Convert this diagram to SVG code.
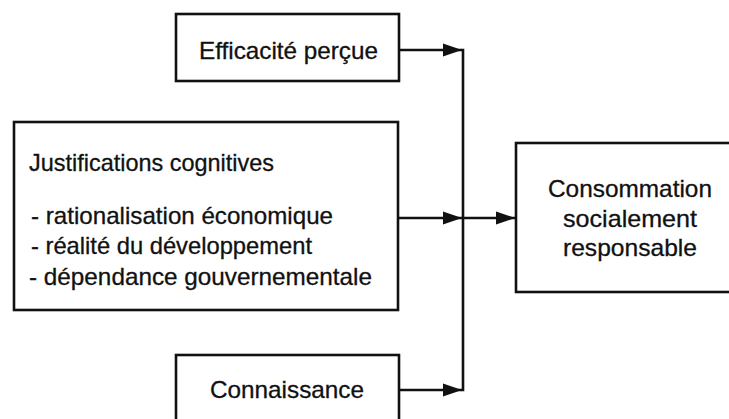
<svg xmlns="http://www.w3.org/2000/svg" width="729" height="419" viewBox="0 0 729 419">
<defs>
<style>
.box{fill:#fff;stroke:#111;stroke-width:2.6}
.t{font-family:"Liberation Sans",Arial,Helvetica,sans-serif;font-size:24px;fill:#111;stroke:#111;stroke-width:0.3}
.c{text-anchor:middle}
.ln{fill:none;stroke:#111;stroke-width:2.6}
</style>
<marker id="ah" markerUnits="userSpaceOnUse" markerWidth="20" markerHeight="14" refX="19" refY="7" orient="auto">
<path d="M0,0.5 L19,7 L0,13.5 Z" fill="#111"/>
</marker>
</defs>
<rect width="729" height="419" fill="#fff"/>
<g id="connectors">
<line class="ln" x1="399" y1="50" x2="462" y2="50" marker-end="url(#ah)"/>
<line class="ln" x1="463" y1="48.7" x2="463" y2="391.3"/>
<line class="ln" x1="398" y1="218" x2="462" y2="218" marker-end="url(#ah)"/>
<line class="ln" x1="463" y1="218" x2="515" y2="218" marker-end="url(#ah)"/>
<line class="ln" x1="399" y1="390" x2="462" y2="390" marker-end="url(#ah)"/>
</g>
<g id="efficacite">
<rect class="box" x="176" y="14" width="223" height="67"/>
<text class="t c" x="288.5" y="59" textLength="179" lengthAdjust="spacingAndGlyphs">Efficacité perçue</text>
</g>
<g id="justifications">
<rect class="box" x="14" y="122" width="384" height="188"/>
<text class="t" x="29" y="171" textLength="245" lengthAdjust="spacingAndGlyphs">Justifications cognitives</text>
<text class="t" x="31" y="224" textLength="302" lengthAdjust="spacingAndGlyphs">- rationalisation économique</text>
<text class="t" x="31" y="254" textLength="281" lengthAdjust="spacingAndGlyphs">- réalité du développement</text>
<text class="t" x="29" y="285" textLength="343" lengthAdjust="spacingAndGlyphs">- dépendance gouvernementale</text>
</g>
<g id="connaissance">
<rect class="box" x="176" y="355" width="223" height="80"/>
<text class="t c" x="287" y="398" textLength="154" lengthAdjust="spacingAndGlyphs">Connaissance</text>
</g>
<g id="consommation">
<rect class="box" x="516" y="143" width="230" height="149"/>
<text class="t c" x="630" y="197" textLength="164" lengthAdjust="spacingAndGlyphs">Consommation</text>
<text class="t c" x="630" y="227" textLength="134" lengthAdjust="spacingAndGlyphs">socialement</text>
<text class="t c" x="630" y="256" textLength="134" lengthAdjust="spacingAndGlyphs">responsable</text>
</g>
</svg>
